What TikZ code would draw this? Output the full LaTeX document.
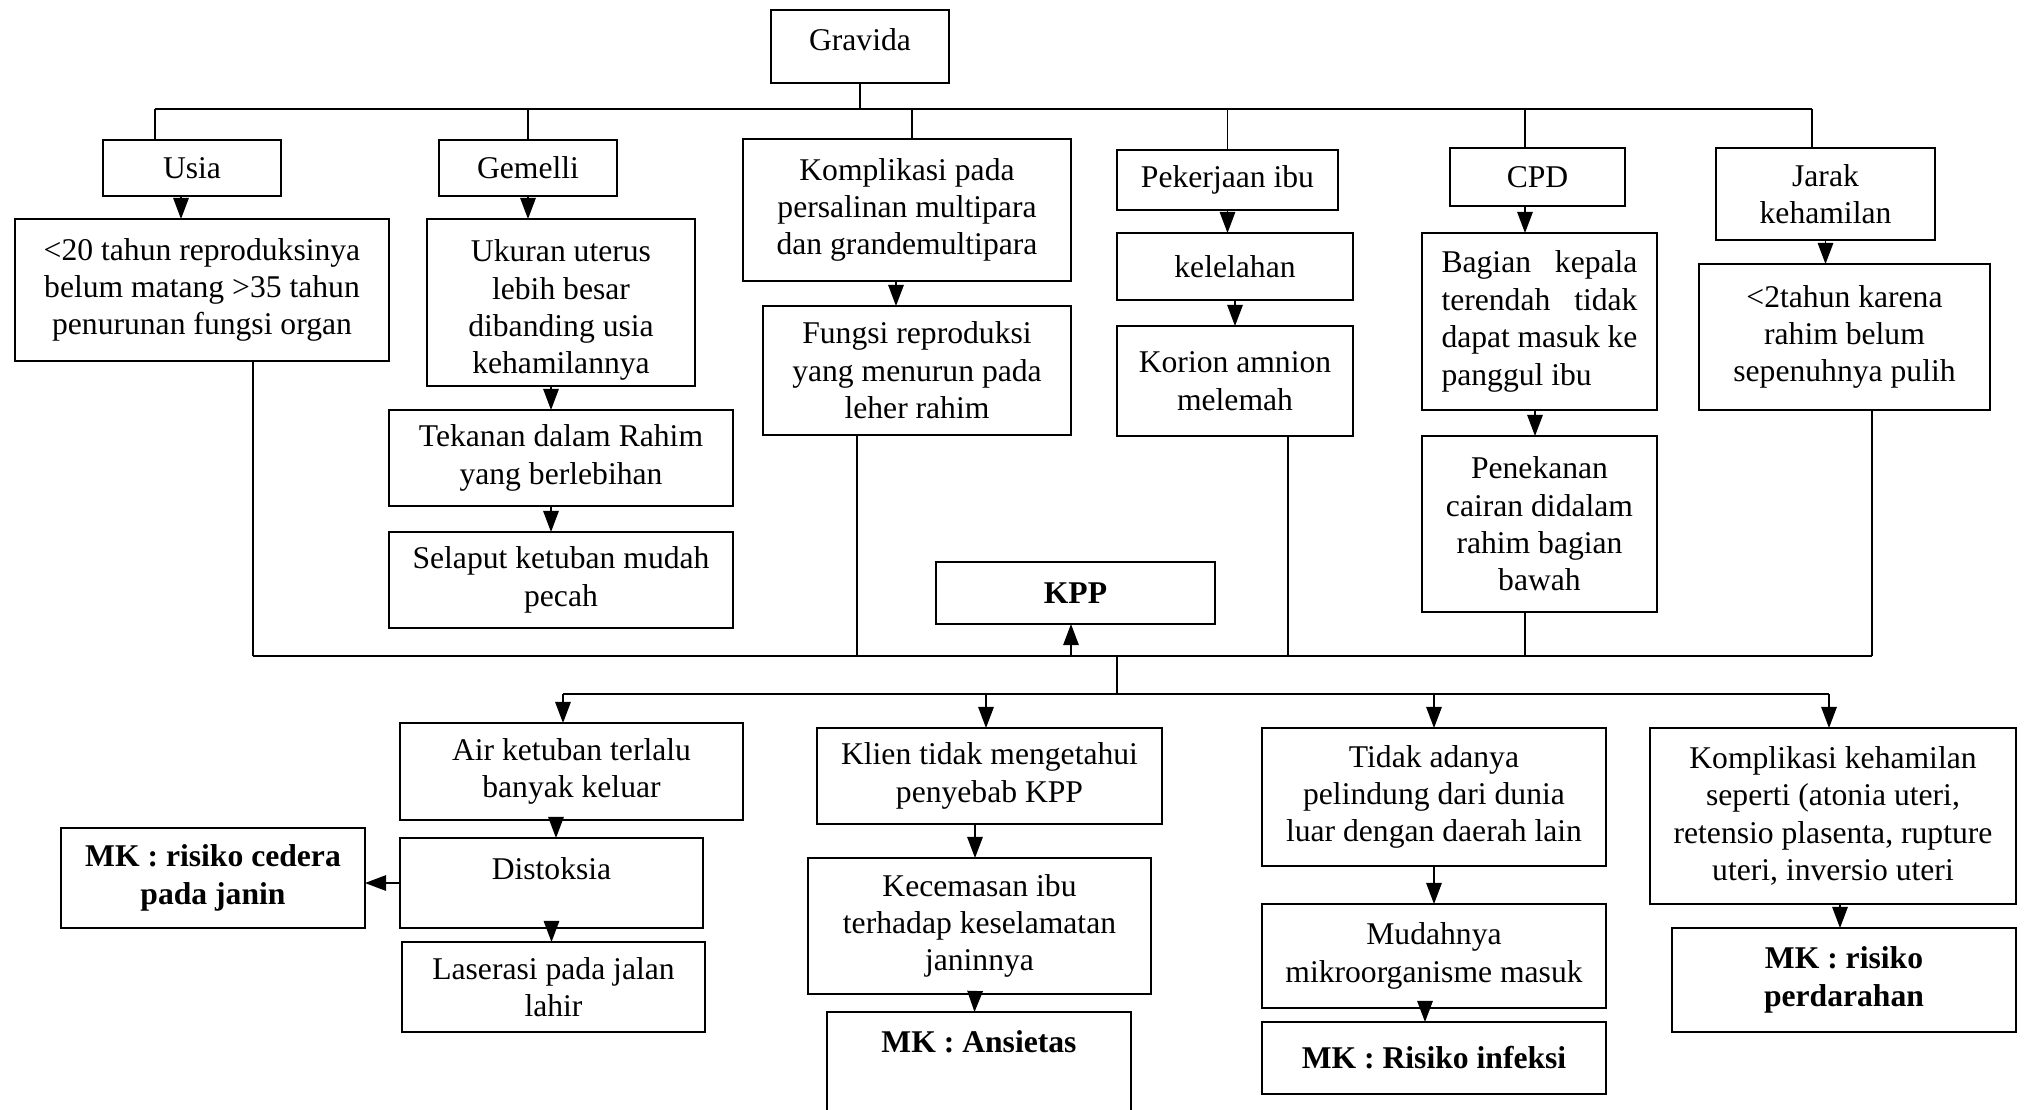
\documentclass[tikz,border=0pt]{standalone}
\usepackage{fontspec}
\setmainfont{Liberation Serif}
\usepackage{tikz}
\usetikzlibrary{arrows.meta}

\begin{document}
\begin{tikzpicture}[x=0.1mm,y=-0.1mm,
		kotak/.style={draw,line width=0.6pt,align=center,inner sep=0pt,outer sep=0pt,font=\fontsize{9}{10.64}\selectfont},
		garis/.style={line width=0.45pt},
		bus/.style={line width=0.8pt},
		panah/.style={garis,-{Triangle[length=6pt,width=4.4pt]}}]
	\useasboundingbox (0,0) rectangle (2024,1109);
	\clip (0,0) rectangle (2024,1109);
	% faktor penyebab
	\node[kotak,minimum width=17.8mm,minimum height=7.3mm] (grav) at (860,46.5) {Gravida\rule[-3.8pt]{0pt}{3.8pt}};
	\node[kotak,minimum width=17.8mm,minimum height=5.6mm] (usia) at (192,168) {Usia};
	\node[kotak,minimum width=17.8mm,minimum height=5.6mm] (gem) at (528,168) {Gemelli};
	\node[kotak,minimum width=32.8mm,minimum height=14.2mm] (komp) at (907,210) {Komplikasi pada\\persalinan multipara\\dan grandemultipara};
	\node[kotak,minimum width=22.1mm,minimum height=6mm] (pek) at (1227.5,180) {Pekerjaan ibu};
	\node[kotak,minimum width=17.5mm,minimum height=5.8mm] (cpd) at (1537.5,177) {CPD};
	\node[kotak,minimum width=21.9mm,minimum height=9.2mm] (jarak) at (1825.5,194) {Jarak\\kehamilan};
	\node[kotak,minimum width=37.4mm,minimum height=14.2mm] (usiad) at (202,290) {<20 tahun reproduksinya\\belum matang >35 tahun\\penurunan fungsi organ};
	\node[kotak,minimum width=26.8mm,minimum height=16.7mm] (gemd) at (561,302.5) {\rule{0pt}{10.7pt}Ukuran uterus\\lebih besar\\dibanding usia\\kehamilannya};
	\node[kotak,minimum width=34.4mm,minimum height=9.6mm] (tek) at (561,458) {Tekanan dalam Rahim\\yang berlebihan};
	\node[kotak,minimum width=34.4mm,minimum height=9.6mm] (sel) at (561,580) {Selaput ketuban mudah\\pecah};
	\node[kotak,minimum width=30.8mm,minimum height=12.9mm] (fungsi) at (917,370.5) {Fungsi reproduksi\\yang menurun pada\\leher rahim};
	\node[kotak,minimum width=23.6mm,minimum height=6.7mm] (kel) at (1235,266.5) {kelelahan};
	\node[kotak,minimum width=23.6mm,minimum height=11mm] (kor) at (1235,381) {Korion amnion\\melemah};
	\node[kotak,align=left,minimum width=23.5mm,minimum height=17.7mm] (bag) at (1539.5,321.5) {\makebox[19.6mm][s]{Bagian kepala}\\\makebox[19.6mm][s]{terendah tidak}\\\makebox[19.6mm][s]{dapat masuk ke}\\panggul ibu};
	\node[kotak,minimum width=23.5mm,minimum height=17.6mm] (pen) at (1539.5,524) {Penekanan\\cairan didalam\\rahim bagian\\bawah};
	\node[kotak,minimum width=29.1mm,minimum height=14.6mm] (kur2) at (1844.5,337) {<2tahun karena\\rahim belum\\sepenuhnya pulih};
	\node[kotak,font=\fontsize{9}{10.64}\selectfont\bfseries,minimum width=27.9mm,minimum height=6.2mm] (kpp) at (1075.5,593) {KPP};
	% akibat
	\node[kotak,minimum width=34.3mm,minimum height=9.7mm] (air) at (571.5,771.5) {Air ketuban terlalu\\banyak keluar};
	\node[kotak,minimum width=30.3mm,minimum height=9mm] (dist) at (551.5,883) {Distoksia\rule[-8pt]{0pt}{8pt}};
	\node[kotak,font=\fontsize{9}{10.64}\selectfont\bfseries,minimum width=30.4mm,minimum height=10mm] (mkc) at (213,878) {MK : risiko cedera\\pada janin};
	\node[kotak,minimum width=30.3mm,minimum height=9mm] (las) at (553.5,987) {Laserasi pada jalan\\lahir};
	\node[kotak,minimum width=34.5mm,minimum height=9.6mm] (klien) at (989.5,776) {Klien tidak mengetahui\\penyebab KPP};
	\node[kotak,minimum width=34.3mm,minimum height=13.6mm] (kec) at (979.5,926) {Kecemasan ibu\\terhadap keselamatan\\janinnya};
	\node[kotak,font=\fontsize{9}{10.64}\selectfont\bfseries,minimum width=30.4mm,minimum height=10.8mm] (ans) at (979,1066) {MK : Ansietas\\\strut};
	\node[kotak,minimum width=34.4mm,minimum height=13.8mm] (tidak) at (1434,797) {Tidak adanya\\pelindung dari dunia\\luar dengan daerah lain};
	\node[kotak,minimum width=34.4mm,minimum height=10.4mm] (mud) at (1434,956) {Mudahnya\\mikroorganisme masuk};
	\node[kotak,font=\fontsize{9}{10.64}\selectfont\bfseries,minimum width=34.4mm,minimum height=7.2mm] (inf) at (1434,1058) {MK : Risiko infeksi};
	\node[kotak,minimum width=36.6mm,minimum height=17.6mm] (kompk) at (1833,816) {Komplikasi kehamilan\\seperti (atonia uteri,\\retensio plasenta, rupture\\uteri, inversio uteri};
	\node[kotak,font=\fontsize{9}{10.64}\selectfont\bfseries,minimum width=34.4mm,minimum height=10.4mm] (perd) at (1844,980) {MK : risiko\\perdarahan};
	% gravida ke faktor
	\draw[garis] (grav.south) -- ++(0,26) coordinate (atas);
	\coordinate (a1) at ([xshift=-3.7mm]usia.north);
	\coordinate (a2) at ([xshift=0.5mm]komp.north);
	\coordinate (a3) at ([xshift=-1.25mm]cpd.north);
	\coordinate (a4) at ([xshift=-1.35mm]jarak.north);
	\draw[bus] (a1 |- atas) -- (a4 |- atas);
	\draw[garis] (a1) -- (a1 |- atas);
	\draw[garis] (gem.north) -- (gem.north |- atas);
	\draw[garis] (a2) -- (a2 |- atas);
	\draw[garis] (pek.north) -- (pek.north |- atas);
	\draw[garis] (a3) -- (a3 |- atas);
	\draw[garis] (a4) -- (a4 |- atas);
	% rantai tiap faktor
	\draw[panah] ([xshift=-1.1mm]usia.south) -- ([xshift=-1.1mm]usia.south |- usiad.north);
	\draw[panah] (gem.south) -- (gem.south |- gemd.north);
	\draw[panah] ([xshift=-1mm]gemd.south) -- ([xshift=-1mm]tek.north);
	\draw[panah] ([xshift=-1mm]tek.south) -- ([xshift=-1mm]sel.north);
	\draw[panah] ([xshift=-1.1mm]komp.south) -- ([xshift=-1.1mm]komp.south |- fungsi.north);
	\draw[panah] (pek.south) -- (pek.south |- kel.north);
	\draw[panah] (kel.south) -- (kor.north);
	\draw[panah] ([xshift=-1.25mm]cpd.south) -- ([xshift=-1.25mm]cpd.south |- bag.north);
	\draw[panah] ([xshift=-0.45mm]bag.south) -- ([xshift=-0.45mm]pen.north);
	\draw[panah] (jarak.south) -- (jarak.south |- kur2.north);
	% kumpul ke KPP
	\path ([xshift=4.15mm]kpp.south) ++(0,32) coordinate (bawah);
	\coordinate (k1) at ([xshift=5.1mm]usiad.south);
	\coordinate (k2) at ([xshift=-6mm]fungsi.south);
	\coordinate (k3) at ([xshift=5.3mm]kor.south);
	\coordinate (k4) at ([xshift=-1.45mm]pen.south);
	\coordinate (k5) at ([xshift=2.75mm]kur2.south);
	\draw[bus] (k1 |- bawah) -- (k5 |- bawah);
	\foreach \k in {k1,k2,k3,k4,k5}
		\draw[garis] (\k) -- (\k |- bawah);
	\draw[panah] ([xshift=-0.45mm]kpp.south |- bawah) -- ([xshift=-0.45mm]kpp.south);
	% KPP ke akibat
	\draw[garis] (bawah) -- ++(0,38) coordinate (sebar);
	\draw[bus] ([xshift=-0.85mm]air.north |- sebar) -- ([xshift=-0.4mm]kompk.north |- sebar);
	\draw[panah] ([xshift=-0.85mm]air.north |- sebar) -- ([xshift=-0.85mm]air.north);
	\draw[panah] ([xshift=-0.35mm]klien.north |- sebar) -- ([xshift=-0.35mm]klien.north);
	\draw[panah] (tidak.north |- sebar) -- (tidak.north);
	\draw[panah] ([xshift=-0.4mm]kompk.north |- sebar) -- ([xshift=-0.4mm]kompk.north);
	\draw[panah] ([xshift=-1.55mm]air.south) -- ([xshift=-1.55mm]air.south |- dist.north);
	\draw[panah] (dist.west) -- (dist.west -| mkc.east);
	\draw[panah] (dist.south) -- (dist.south |- las.north);
	\draw[panah] ([xshift=-1.45mm]klien.south) -- ([xshift=-1.45mm]klien.south |- kec.north);
	\draw[panah] ([xshift=-0.45mm]kec.south) -- ([xshift=-0.45mm]ans.north);
	\draw[panah] (tidak.south) -- (mud.north);
	\draw[panah] ([xshift=-0.9mm]mud.south) -- ([xshift=-0.9mm]inf.north);
	\draw[panah] ([xshift=0.7mm]kompk.south) -- ([xshift=0.7mm]kompk.south |- perd.north);
	% \node at (1012,1100) {};
\end{tikzpicture}
\end{document}
